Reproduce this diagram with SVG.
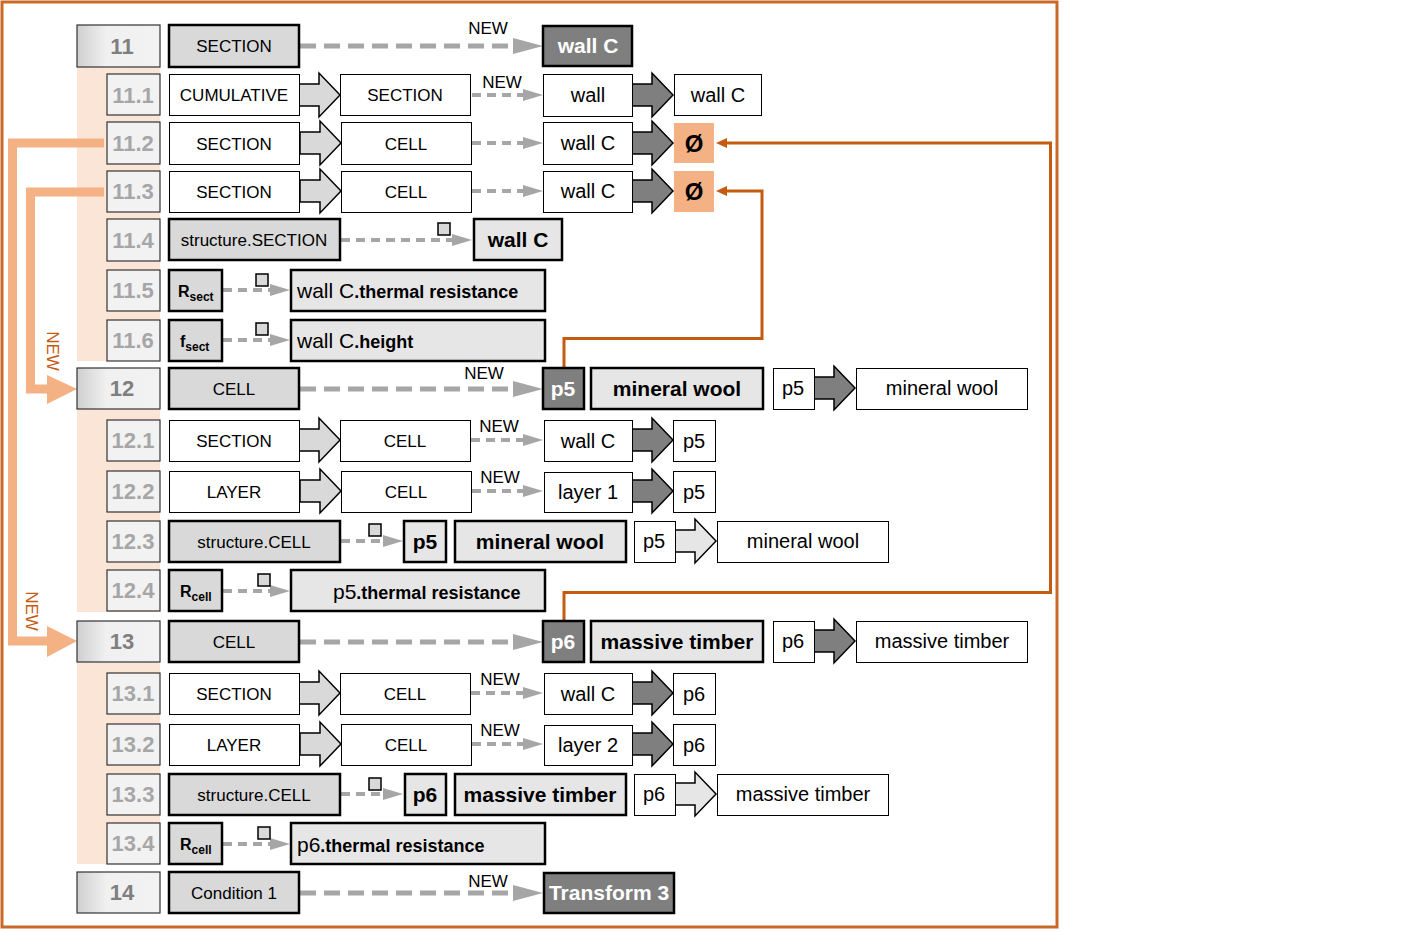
<svg xmlns="http://www.w3.org/2000/svg" xmlns:xlink="http://www.w3.org/1999/xlink" width="1417" height="930" viewBox="0 0 1417 930">
<defs>
<linearGradient id="gr" x1="0" y1="0" x2="1" y2="0">
<stop offset="0" stop-color="#cfcfcf"/>
<stop offset="0.35" stop-color="#f0f0f0"/>
<stop offset="1" stop-color="#f2f2f2"/>
</linearGradient>
<path id="barrow" d="M0,-11 H20 V-22 L41,0 L20,22 V11 H0 Z"/>
<polygon id="ahL" points="0,-8 30,0 0,8"/>
<polygon id="ahS" points="0,-6 20,0 0,6"/>
<polygon id="ahO" points="0,0 11,-5 11,5"/>
</defs>
<style>
text{font-family:"Liberation Sans",Arial,sans-serif;}
.num{fill:#f2f2f2;stroke:#333;stroke-width:1.2}
.mnum{fill:url(#gr);stroke:#333;stroke-width:1.2}
.nt{font-size:22px;font-weight:bold;fill:#a6a6a6;text-anchor:middle}
.mnt{font-size:22px;font-weight:bold;fill:#7f7f7f;text-anchor:middle}
.g{fill:#d9d9d9;stroke:#000;stroke-width:2.5}
.l{fill:#e7e6e6;stroke:#000;stroke-width:2.5}
.d{fill:#7f7f7f;stroke:#000;stroke-width:2.5}
.w{fill:#fff;stroke:#000;stroke-width:1}
.o{fill:#f4b183}
.t{font-size:17px;fill:#000;text-anchor:middle}
.t2{font-size:20px;fill:#000;text-anchor:middle}
.b{font-size:21px;font-weight:bold;fill:#000;text-anchor:middle}
.bw{font-size:21px;font-weight:bold;fill:#fff;text-anchor:middle}
.new{font-size:17px;fill:#000;text-anchor:middle}
.dl{stroke:#a6a6a6;stroke-width:5;stroke-dasharray:16 8;fill:none}
.ds{stroke:#a6a6a6;stroke-width:4;stroke-dasharray:9 6;fill:none}
.ah{fill:#a6a6a6}
.sq{fill:#d9d9d9;stroke:#000;stroke-width:1.5}
.la{fill:#d9d9d9;stroke:#000;stroke-width:1.5}
.la2{fill:#e7e6e6;stroke:#000;stroke-width:1.5}
.da{fill:#7f7f7f;stroke:#000;stroke-width:1.5}
.oc{stroke:#c55a11;stroke-width:3;fill:none}
.ocl{stroke:#f4b183;stroke-width:9;fill:none}
.sub{font-size:12px;font-weight:bold}
.rb{font-size:16px;font-weight:bold;fill:#000}
.empty{font-size:24px;font-weight:bold;fill:#000;text-anchor:middle}
</style>
<rect x="2" y="2" width="1055" height="925" fill="#fff" stroke="#c96a2b" stroke-width="3"/>
<g id="bands">
<rect x="77" y="67" width="83" height="294" fill="#fbe5d6"/>
<rect x="77" y="409" width="83" height="203" fill="#fbe5d6"/>
<rect x="77" y="662" width="83" height="202" fill="#fbe5d6"/>
</g>
<g id="connectors">
<path class="ocl" d="M104,143 H12.5 V641 H50"/>
<polygon points="47,626 77,641 47,657" fill="#f4b183"/>
<path class="ocl" d="M104,192 H30.5 V389 H50"/>
<polygon points="47,375 77,389 47,404" fill="#f4b183"/>
<text x="52" y="351" transform="rotate(90 52 351)" font-size="17" fill="#c55a11" text-anchor="middle" dominant-baseline="central">NEW</text>
<text x="31.5" y="611" transform="rotate(90 31.5 611)" font-size="17" fill="#c55a11" text-anchor="middle" dominant-baseline="central">NEW</text>
<path class="oc" d="M564,368 V338.5 H762 V191 H725"/>
<use href="#ahO" x="716" y="191" fill="#c55a11"/>
<path class="oc" d="M564,621 V592.5 H1050.5 V143 H725"/>
<use href="#ahO" x="716" y="143" fill="#c55a11"/>
<line class="dl" x1="300" y1="46" x2="515" y2="46"/><use href="#ahL" class="ah" x="513" y="46"/>
<line class="dl" x1="300" y1="389" x2="515" y2="389"/><use href="#ahL" class="ah" x="513" y="389"/>
<line class="dl" x1="300" y1="642" x2="515" y2="642"/><use href="#ahL" class="ah" x="513" y="642"/>
<line class="dl" x1="300" y1="893" x2="515" y2="893"/><use href="#ahL" class="ah" x="513" y="893"/>
<line class="ds" x1="472" y1="95" x2="525" y2="95"/><use href="#ahS" class="ah" x="523" y="95"/>
<line class="ds" x1="472" y1="143" x2="525" y2="143"/><use href="#ahS" class="ah" x="523" y="143"/>
<line class="ds" x1="472" y1="191" x2="525" y2="191"/><use href="#ahS" class="ah" x="523" y="191"/>
<line class="ds" x1="471" y1="440" x2="525" y2="440"/><use href="#ahS" class="ah" x="523" y="440"/>
<line class="ds" x1="472" y1="491" x2="525" y2="491"/><use href="#ahS" class="ah" x="523" y="491"/>
<line class="ds" x1="471" y1="693" x2="525" y2="693"/><use href="#ahS" class="ah" x="523" y="693"/>
<line class="ds" x1="472" y1="744" x2="525" y2="744"/><use href="#ahS" class="ah" x="523" y="744"/>
<line class="ds" x1="341" y1="240" x2="452" y2="240"/><use href="#ahS" class="ah" x="452" y="240"/>
<line class="ds" x1="223" y1="290" x2="272" y2="290"/><use href="#ahS" class="ah" x="270" y="290"/>
<line class="ds" x1="223" y1="340" x2="272" y2="340"/><use href="#ahS" class="ah" x="270" y="340"/>
<line class="ds" x1="341" y1="541" x2="385" y2="541"/><use href="#ahS" class="ah" x="383" y="541"/>
<line class="ds" x1="223" y1="591" x2="272" y2="591"/><use href="#ahS" class="ah" x="270" y="591"/>
<line class="ds" x1="341" y1="794" x2="385" y2="794"/><use href="#ahS" class="ah" x="383" y="794"/>
<line class="ds" x1="223" y1="844" x2="272" y2="844"/><use href="#ahS" class="ah" x="270" y="844"/>
<rect class="sq" x="438" y="223" width="12" height="12"/>
<rect class="sq" x="256" y="274" width="12" height="12"/>
<rect class="sq" x="256" y="323" width="12" height="12"/>
<rect class="sq" x="369" y="524" width="12" height="12"/>
<rect class="sq" x="258" y="574" width="12" height="12"/>
<rect class="sq" x="369" y="778" width="12" height="12"/>
<rect class="sq" x="258" y="827" width="12" height="12"/>
<text class="new" x="488" y="34">NEW</text>
<text class="new" x="502" y="88">NEW</text>
<text class="new" x="484" y="379">NEW</text>
<text class="new" x="499" y="432">NEW</text>
<text class="new" x="500" y="483">NEW</text>
<text class="new" x="500" y="685">NEW</text>
<text class="new" x="500" y="736">NEW</text>
<text class="new" x="488" y="887">NEW</text>
<use href="#barrow" class="la" x="299" y="95"/>
<use href="#barrow" class="la" x="300" y="143"/>
<use href="#barrow" class="la" x="300" y="191"/>
<use href="#barrow" class="la" x="299" y="440"/>
<use href="#barrow" class="la" x="300" y="491"/>
<use href="#barrow" class="la" x="299" y="693"/>
<use href="#barrow" class="la" x="300" y="744"/>
<use href="#barrow" class="da" x="632" y="95"/>
<use href="#barrow" class="da" x="632" y="143"/>
<use href="#barrow" class="da" x="632" y="191"/>
<use href="#barrow" class="da" x="632" y="440"/>
<use href="#barrow" class="da" x="632" y="491"/>
<use href="#barrow" class="da" x="632" y="693"/>
<use href="#barrow" class="da" x="632" y="744"/>
<use href="#barrow" class="da" x="814" y="388"/>
<use href="#barrow" class="da" x="814" y="641"/>
<use href="#barrow" class="la2" x="675" y="541"/>
<use href="#barrow" class="la2" x="675" y="794"/>
</g>
<g id="row11">
<rect class="mnum" x="77" y="25" width="83" height="42"/><text class="mnt" x="122" y="54">11</text>
<rect class="g" x="169" y="25" width="130" height="42"/><text class="t" x="234" y="52">SECTION</text>
<rect class="d" x="543" y="26" width="89" height="40"/><text class="bw" x="588" y="53">wall C</text>
</g>
<g id="row11_1">
<rect class="num" x="107" y="74" width="53" height="41"/><text class="nt" x="133" y="103">11.1</text>
<rect class="w" x="169.5" y="74.5" width="130" height="41"/><text class="t" x="234" y="101">CUMULATIVE</text>
<rect class="w" x="340.5" y="74.5" width="130" height="41"/><text class="t" x="405" y="101">SECTION</text>
<rect class="w" x="543.5" y="74.5" width="89" height="42"/><text class="t2" x="588" y="102">wall</text>
<rect class="w" x="674.5" y="74.5" width="87" height="41"/><text class="t2" x="718" y="102">wall C</text>
</g>
<g id="row11_2">
<rect class="num" x="107" y="122" width="53" height="42"/><text class="nt" x="133" y="151">11.2</text>
<rect class="w" x="169.5" y="122.5" width="130" height="42"/><text class="t" x="234" y="150">SECTION</text>
<rect class="w" x="341.5" y="122.5" width="130" height="42"/><text class="t" x="406" y="150">CELL</text>
<rect class="w" x="543.5" y="122.5" width="89" height="42"/><text class="t2" x="588" y="150">wall C</text>
<rect class="o" x="674" y="123" width="40" height="40"/><text class="empty" x="694" y="152">Ø</text>
</g>
<g id="row11_3">
<rect class="num" x="107" y="171" width="53" height="41"/><text class="nt" x="133" y="199">11.3</text>
<rect class="w" x="169.5" y="171.5" width="130" height="41"/><text class="t" x="234" y="198">SECTION</text>
<rect class="w" x="341.5" y="171.5" width="130" height="41"/><text class="t" x="406" y="198">CELL</text>
<rect class="w" x="543.5" y="171.5" width="89" height="41"/><text class="t2" x="588" y="198">wall C</text>
<rect class="o" x="674" y="171" width="40" height="41"/><text class="empty" x="694" y="200">Ø</text>
</g>
<g id="row11_4">
<rect class="num" x="107" y="219" width="53" height="42"/><text class="nt" x="133" y="248">11.4</text>
<rect class="g" x="169" y="219" width="171" height="41"/><text class="t" x="254" y="246">structure.SECTION</text>
<rect class="l" x="474" y="219" width="88" height="41"/><text class="b" x="518" y="247">wall C</text>
</g>
<g id="row11_5">
<rect class="num" x="107" y="270" width="53" height="41"/><text class="nt" x="133" y="298">11.5</text>
<rect class="g" x="169" y="270" width="53" height="41"/><text class="rb" x="178" y="297">R<tspan class="sub" dy="4">sect</tspan></text>
<rect class="l" x="291" y="270" width="254" height="41"/><text x="297" y="298" font-size="21" fill="#000">wall C<tspan font-size="18" font-weight="bold">.thermal resistance</tspan></text>
</g>
<g id="row11_6">
<rect class="num" x="107" y="320" width="53" height="41"/><text class="nt" x="133" y="348">11.6</text>
<rect class="g" x="169" y="320" width="53" height="41"/><text class="rb" x="180" y="347">f<tspan class="sub" dy="4">sect</tspan></text>
<rect class="l" x="291" y="320" width="254" height="41"/><text x="297" y="348" font-size="21" fill="#000">wall C<tspan font-size="18" font-weight="bold">.height</tspan></text>
</g>
<g id="row12">
<rect class="mnum" x="77" y="368" width="83" height="41"/><text class="mnt" x="122" y="396">12</text>
<rect class="g" x="169" y="368" width="130" height="41"/><text class="t" x="234" y="395">CELL</text>
<rect class="d" x="543" y="368" width="41" height="41"/><text class="bw" x="563" y="396">p5</text>
<rect class="l" x="591" y="368" width="172" height="41"/><text class="b" x="677" y="396">mineral wool</text>
<rect class="w" x="773.5" y="368.5" width="41" height="41"/><text class="t2" x="793" y="395">p5</text>
<rect class="w" x="856.5" y="368.5" width="171" height="41"/><text class="t2" x="942" y="395">mineral wool</text>
</g>
<g id="row12_1">
<rect class="num" x="107" y="420" width="53" height="41"/><text class="nt" x="133" y="448">12.1</text>
<rect class="w" x="169.5" y="420.5" width="130" height="41"/><text class="t" x="234" y="447">SECTION</text>
<rect class="w" x="340.5" y="420.5" width="130" height="41"/><text class="t" x="405" y="447">CELL</text>
<rect class="w" x="544.5" y="420.5" width="88" height="41"/><text class="t2" x="588" y="448">wall C</text>
<rect class="w" x="673.5" y="420.5" width="42" height="41"/><text class="t2" x="694" y="448">p5</text>
</g>
<g id="row12_2">
<rect class="num" x="107" y="471" width="53" height="41"/><text class="nt" x="133" y="499">12.2</text>
<rect class="w" x="169.5" y="471.5" width="130" height="41"/><text class="t" x="234" y="498">LAYER</text>
<rect class="w" x="341.5" y="471.5" width="130" height="41"/><text class="t" x="406" y="498">CELL</text>
<rect class="w" x="544.5" y="472.5" width="88" height="40"/><text class="t2" x="588" y="499">layer 1</text>
<rect class="w" x="673.5" y="471.5" width="42" height="41"/><text class="t2" x="694" y="499">p5</text>
</g>
<g id="row12_3">
<rect class="num" x="107" y="521" width="53" height="41"/><text class="nt" x="133" y="549">12.3</text>
<rect class="g" x="169" y="521" width="171" height="41"/><text class="t" x="254" y="548">structure.CELL</text>
<rect class="l" x="404" y="521" width="42" height="41"/><text class="b" x="425" y="549">p5</text>
<rect class="l" x="455" y="521" width="171" height="41"/><text class="b" x="540" y="549">mineral wool</text>
<rect class="w" x="634.5" y="521.5" width="41" height="41"/><text class="t2" x="654" y="548">p5</text>
<rect class="w" x="717.5" y="521.5" width="171" height="41"/><text class="t2" x="803" y="548">mineral wool</text>
</g>
<g id="row12_4">
<rect class="num" x="107" y="570" width="53" height="41"/><text class="nt" x="133" y="598">12.4</text>
<rect class="g" x="169" y="570" width="53" height="41"/><text class="rb" x="180" y="597">R<tspan class="sub" dy="4">cell</tspan></text>
<rect class="l" x="291" y="570" width="254" height="41"/><text x="333" y="599" font-size="21" fill="#000">p5<tspan font-size="18" font-weight="bold">.thermal resistance</tspan></text>
</g>
<g id="row13">
<rect class="mnum" x="77" y="621" width="83" height="41"/><text class="mnt" x="122" y="649">13</text>
<rect class="g" x="169" y="621" width="130" height="41"/><text class="t" x="234" y="648">CELL</text>
<rect class="d" x="543" y="621" width="41" height="41"/><text class="bw" x="563" y="649">p6</text>
<rect class="l" x="591" y="621" width="172" height="41"/><text class="b" x="677" y="649">massive timber</text>
<rect class="w" x="773.5" y="621.5" width="41" height="41"/><text class="t2" x="793" y="648">p6</text>
<rect class="w" x="856.5" y="621.5" width="171" height="41"/><text class="t2" x="942" y="648">massive timber</text>
</g>
<g id="row13_1">
<rect class="num" x="107" y="673" width="53" height="41"/><text class="nt" x="133" y="701">13.1</text>
<rect class="w" x="169.5" y="673.5" width="130" height="41"/><text class="t" x="234" y="700">SECTION</text>
<rect class="w" x="340.5" y="673.5" width="130" height="41"/><text class="t" x="405" y="700">CELL</text>
<rect class="w" x="544.5" y="673.5" width="88" height="41"/><text class="t2" x="588" y="701">wall C</text>
<rect class="w" x="673.5" y="673.5" width="42" height="41"/><text class="t2" x="694" y="701">p6</text>
</g>
<g id="row13_2">
<rect class="num" x="107" y="724" width="53" height="41"/><text class="nt" x="133" y="752">13.2</text>
<rect class="w" x="169.5" y="724.5" width="130" height="41"/><text class="t" x="234" y="751">LAYER</text>
<rect class="w" x="341.5" y="724.5" width="130" height="41"/><text class="t" x="406" y="751">CELL</text>
<rect class="w" x="544.5" y="725.5" width="88" height="40"/><text class="t2" x="588" y="752">layer 2</text>
<rect class="w" x="673.5" y="724.5" width="42" height="41"/><text class="t2" x="694" y="752">p6</text>
</g>
<g id="row13_3">
<rect class="num" x="107" y="774" width="53" height="41"/><text class="nt" x="133" y="802">13.3</text>
<rect class="g" x="169" y="774" width="171" height="41"/><text class="t" x="254" y="801">structure.CELL</text>
<rect class="l" x="405" y="774" width="41" height="41"/><text class="b" x="425" y="802">p6</text>
<rect class="l" x="455" y="774" width="171" height="41"/><text class="b" x="540" y="802">massive timber</text>
<rect class="w" x="634.5" y="774.5" width="41" height="41"/><text class="t2" x="654" y="801">p6</text>
<rect class="w" x="717.5" y="774.5" width="171" height="41"/><text class="t2" x="803" y="801">massive timber</text>
</g>
<g id="row13_4">
<rect class="num" x="107" y="823" width="53" height="41"/><text class="nt" x="133" y="851">13.4</text>
<rect class="g" x="169" y="823" width="53" height="41"/><text class="rb" x="180" y="850">R<tspan class="sub" dy="4">cell</tspan></text>
<rect class="l" x="291" y="823" width="254" height="41"/><text x="297" y="852" font-size="21" fill="#000">p6<tspan font-size="18" font-weight="bold">.thermal resistance</tspan></text>
</g>
<g id="row14">
<rect class="mnum" x="77" y="872" width="83" height="41"/><text class="mnt" x="122" y="900">14</text>
<rect class="g" x="169" y="872" width="130" height="41"/><text class="t" x="234" y="899">Condition 1</text>
<rect class="d" x="544" y="873" width="130" height="40"/><text class="bw" x="609" y="900">Transform 3</text>
</g>
</svg>
